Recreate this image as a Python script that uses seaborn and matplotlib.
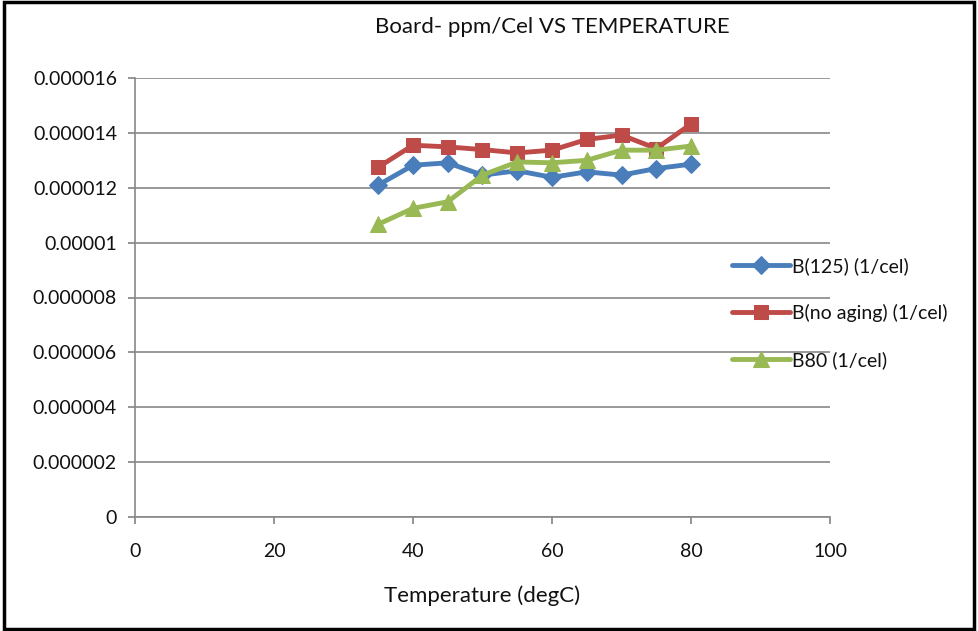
import matplotlib
matplotlib.use("Agg")
import matplotlib.pyplot as plt
import seaborn as sns
import pandas as pd
from matplotlib.patches import Rectangle

temps = [35, 40, 45, 50, 55, 60, 65, 70, 75, 80]
b125 = [1.21e-5, 1.282e-5, 1.291e-5, 1.246e-5, 1.262e-5, 1.238e-5, 1.258e-5, 1.246e-5, 1.27e-5, 1.286e-5]
b_noaging = [1.275e-5, 1.355e-5, 1.349e-5, 1.339e-5, 1.327e-5, 1.337e-5, 1.376e-5, 1.392e-5, 1.343e-5, 1.432e-5]
b80 = [1.067e-5, 1.125e-5, 1.149e-5, 1.246e-5, 1.294e-5, 1.291e-5, 1.30e-5, 1.337e-5, 1.337e-5, 1.352e-5]
series_names = ["B(125) (1/cel)", "B(no aging) (1/cel)", "B80 (1/cel)"]
colors = ["#4A7EBB", "#BE4B48", "#98B954"]
markers = ["D", "s", "^"]
y_ticks = [0, 0.000002, 0.000004, 0.000006, 0.000008, 0.00001, 0.000012, 0.000014, 0.000016]
y_labels = ["0", "0.000002", "0.000004", "0.000006", "0.000008", "0.00001", "0.000012", "0.000014", "0.000016"]
x_ticks = [0, 20, 40, 60, 80, 100]

sns.set_theme(style="white")
plt.rcParams['font.family'] = ['Lato', 'DejaVu Sans']

df = pd.concat([
    pd.DataFrame({"temp": temps, "value": vals, "series": name})
    for name, vals in zip(series_names, [b125, b_noaging, b80])
])

fig = plt.figure(figsize=(9.79, 6.31), dpi=100)
ax = fig.add_axes([135/979, 1-517/631, (830-135)/979, (517-78)/631])

for name, col, mk in zip(series_names, colors, markers):
    sub = df[df.series == name]
    ms = {"D": 9, "s": 10, "^": 11}[mk]
    sns.lineplot(data=sub, x="temp", y="value", ax=ax, color=col, marker=mk,
                 markersize=ms, markeredgecolor=col, linewidth=3.5, label=name)

ax.set_xlim(0, 100)
ax.set_ylim(0, 0.000016)
ax.set_xticks(x_ticks)
ax.set_yticks(y_ticks)
ax.set_yticklabels(y_labels)
ax.grid(axis="y", color="#888888", linewidth=1.2)
ax.set_axisbelow(True)
for s in ["top", "right"]:
    ax.spines[s].set_visible(False)
for s in ["left", "bottom"]:
    ax.spines[s].set_color("#888888")
    ax.spines[s].set_linewidth(1.2)
ax.tick_params(axis="both", which="both", direction="out", length=5, color="#888888",
               labelsize=14, labelcolor="#111111", bottom=True, left=True)
ax.tick_params(axis="x", pad=14)
ax.tick_params(axis="y", pad=8)
ax.set_xlabel("Temperature (degC)", fontsize=16, labelpad=18, color="#111111")
ax.set_ylabel("")
fig.text(552/979, 1-27/631, "Board- ppm/Cel VS TEMPERATURE", fontsize=16,
         color="#111111", ha="center", va="center")

leg = ax.legend(loc="center left", frameon=False,
                fontsize=14, handlelength=3.0, labelspacing=1.5, handletextpad=0.1,
                borderaxespad=0)
leg.set_bbox_to_anchor((724/979, 1-313/631), transform=fig.transFigure)
for t in leg.get_texts():
    t.set_color("#111111")

fig.patches.append(Rectangle((4/979, 2/631), 970/979, 627/631, transform=fig.transFigure,
                             fill=False, edgecolor="black", linewidth=2.5))
fig.savefig("out.png", dpi=100)
